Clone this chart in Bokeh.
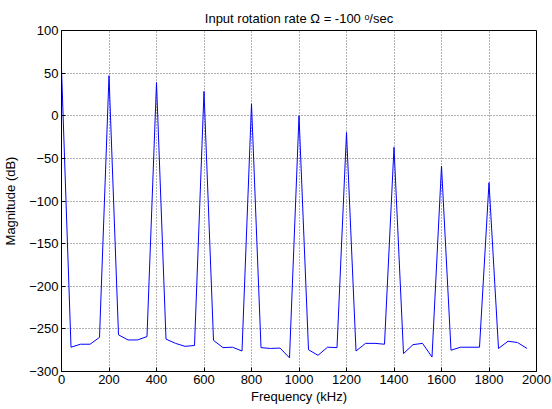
from bokeh.plotting import figure
from bokeh.models import Range1d, FixedTicker
from bokeh.embed import file_html
from bokeh.resources import INLINE

freq_khz = [i * 40 for i in range(50)]
magnitude_db = [
    55, -271.5, -268, -268, -260,
    47, -257, -263, -263, -259,
    39, -262, -267, -270.5, -269.5,
    28.5, -263.5, -272, -271.5, -276,
    14, -272, -273, -272.5, -284,
    0, -274.5, -281, -271.5, -272,
    -19.5, -276, -267, -267, -268,
    -37, -279, -268.5, -267, -283,
    -59, -275, -271.5, -271.5, -271.5,
    -78.5, -273, -264.5, -266, -273,
]
x_ticks = [0, 200, 400, 600, 800, 1000, 1200, 1400, 1600, 1800, 2000]
y_ticks = [-300, -250, -200, -150, -100, -50, 0, 50, 100]

FONT = "Liberation Sans"
FS = "13px"

p = figure(width=552, height=409, output_backend="svg", toolbar_location=None,
           x_range=Range1d(0, 2000), y_range=Range1d(-300, 100),
           title="Input rotation rate \u03a9 = -100 \u1d52/sec",
           min_border_left=61, min_border_right=16, min_border_top=30, min_border_bottom=38)

p.line(freq_khz, magnitude_db, line_color="#0000ff", line_width=1)

p.title.align = "center"
p.title.text_font = FONT
p.title.text_font_size = FS
p.title.text_font_style = "normal"
p.title.text_color = "black"
p.title.offset = 0
p.title.standoff = 9

for ax in (p.xaxis[0], p.yaxis[0]):
    ax.major_label_text_font = FONT
    ax.major_label_text_font_size = FS
    ax.axis_label_text_font = FONT
    ax.axis_label_text_font_size = FS
    ax.axis_label_text_font_style = "normal"
    ax.axis_label_text_color = "black"
    ax.major_tick_in = 4
    ax.major_tick_out = 0
    ax.minor_tick_line_color = None
    ax.axis_line_color = "black"
    ax.major_tick_line_color = "black"
    ax.major_label_text_color = "black"

p.xaxis.ticker = FixedTicker(ticks=x_ticks)
p.yaxis.ticker = FixedTicker(ticks=y_ticks)
p.xaxis.axis_label = "Frequency (kHz)"
p.yaxis.axis_label = "Magnitude (dB)"
p.xaxis.major_label_standoff = 3
p.yaxis.major_label_standoff = 3
p.xaxis.axis_label_standoff = 2
p.yaxis.axis_label_standoff = 8

p.xgrid.ticker = FixedTicker(ticks=x_ticks)
p.ygrid.ticker = FixedTicker(ticks=y_ticks)
for g in (p.xgrid[0], p.ygrid[0]):
    g.grid_line_color = "black"
    g.grid_line_alpha = 0.6
    g.grid_line_dash = "1 2"
    g.grid_line_width = 1

p.outline_line_color = "black"
p.outline_line_alpha = 1
p.outline_line_width = 1
p.background_fill_color = "white"
p.border_fill_color = "white"

open("out.html", "w").write(file_html(p, INLINE))
